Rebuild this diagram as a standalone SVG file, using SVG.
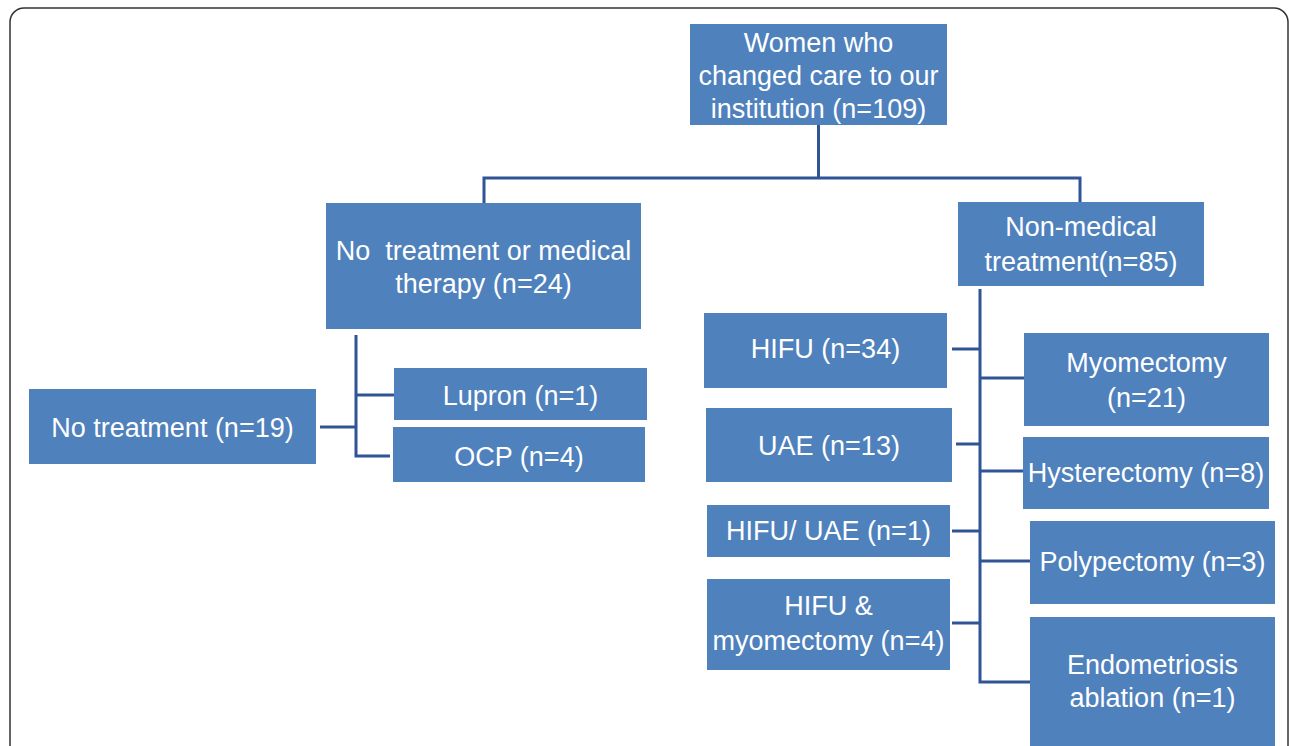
<svg xmlns="http://www.w3.org/2000/svg" width="1290" height="746" viewBox="0 0 1290 746">
<style>
.box{fill:#4f81bd;}
.t{font-family:"Liberation Sans",Arial,sans-serif;font-size:27px;fill:#ffffff;text-anchor:middle;}
.c{fill:none;stroke:#2f5597;stroke-width:3;}
</style>
<rect x="0" y="0" width="1290" height="746" fill="#ffffff"/>
<rect x="10" y="8" width="1278" height="770" rx="14" fill="none" stroke="#333333" stroke-width="1.5"/>
<g id="connectors">
<path class="c" d="M818.5,125 V178"/>
<path class="c" d="M484,203 V178 H1080 V202"/>
<path class="c" d="M356,335 V456 H390"/>
<path class="c" d="M357,395 H394"/>
<path class="c" d="M320,427 H357"/>
<path class="c" d="M980,289 V682 H1030"/>
<path class="c" d="M952,349 H980"/>
<path class="c" d="M956,444 H980"/>
<path class="c" d="M952,531 H980"/>
<path class="c" d="M952,623 H980"/>
<path class="c" d="M980,378 H1024"/>
<path class="c" d="M980,471 H1023"/>
<path class="c" d="M980,561 H1030"/>
</g>
<g id="n-top">
<rect class="box" x="690" y="24" width="257" height="101"/>
<text class="t" x="818.5" y="52">Women who</text>
<text class="t" x="818.5" y="85">changed care to our</text>
<text class="t" x="818.5" y="118">institution (n=109)</text>
</g>
<g id="n-medical">
<rect class="box" x="326" y="203" width="315" height="126"/>
<text class="t" x="483.5" y="260" xml:space="preserve">No  treatment or medical</text>
<text class="t" x="483.5" y="293">therapy (n=24)</text>
</g>
<g id="n-nonmedical">
<rect class="box" x="958" y="202" width="246" height="84"/>
<text class="t" x="1081" y="236">Non-medical</text>
<text class="t" x="1081" y="271">treatment(n=85)</text>
</g>
<g id="n-lupron">
<rect class="box" x="394" y="368" width="253" height="52"/>
<text class="t" x="520.5" y="405">Lupron (n=1)</text>
</g>
<g id="n-ocp">
<rect class="box" x="393" y="427" width="252" height="55"/>
<text class="t" x="519" y="466">OCP (n=4)</text>
</g>
<g id="n-notreatment">
<rect class="box" x="29" y="389" width="287" height="75"/>
<text class="t" x="172.5" y="437">No treatment (n=19)</text>
</g>
<g id="n-hifu">
<rect class="box" x="704" y="313" width="243" height="75"/>
<text class="t" x="825.5" y="358">HIFU (n=34)</text>
</g>
<g id="n-uae">
<rect class="box" x="706" y="408" width="246" height="74"/>
<text class="t" x="829" y="455">UAE (n=13)</text>
</g>
<g id="n-hifuuae">
<rect class="box" x="707" y="505" width="243" height="52"/>
<text class="t" x="828.5" y="540">HIFU/ UAE (n=1)</text>
</g>
<g id="n-hifumyo">
<rect class="box" x="707" y="579" width="243" height="91"/>
<text class="t" x="828.5" y="615">HIFU &amp;</text>
<text class="t" x="828.5" y="650">myomectomy (n=4)</text>
</g>
<g id="n-myomectomy">
<rect class="box" x="1024" y="333" width="245" height="93"/>
<text class="t" x="1146.5" y="372">Myomectomy</text>
<text class="t" x="1146.5" y="407">(n=21)</text>
</g>
<g id="n-hysterectomy">
<rect class="box" x="1023" y="437" width="246" height="72"/>
<text class="t" x="1146" y="482">Hysterectomy (n=8)</text>
</g>
<g id="n-polypectomy">
<rect class="box" x="1030" y="521" width="245" height="83"/>
<text class="t" x="1152.5" y="571">Polypectomy (n=3)</text>
</g>
<g id="n-endometriosis">
<rect class="box" x="1030" y="617" width="245" height="135"/>
<text class="t" x="1152.5" y="674">Endometriosis</text>
<text class="t" x="1152.5" y="707">ablation (n=1)</text>
</g>
</svg>
